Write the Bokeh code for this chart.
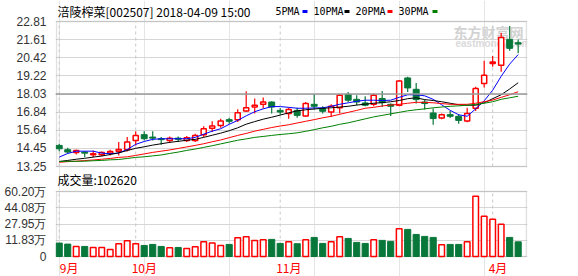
from bokeh.plotting import figure
from bokeh.models import (FixedTicker, Range1d, Span, BoxAnnotation, LinearAxis)
from bokeh.core.properties import value
from bokeh.embed import file_html
from bokeh.resources import INLINE

# ---------------- data ----------------
stock_title = "涪陵榨菜[002507] 2018-04-09 15:00"
ma_names = ["5PMA", "10PMA", "20PMA", "30PMA"]
volume_title = "成交量"
last_volume = 102620

opens = [14.64, 14.36, 14.17, 14.20, 14.03, 14.03, 14.13, 14.26, 14.37, 14.97,
         15.35, 15.19, 15.08, 14.97, 15.12, 14.97, 14.97, 15.35, 15.78, 15.96,
         16.34, 16.34, 16.91, 17.17, 17.35, 17.50, 16.95, 16.74, 16.95, 16.58,
         17.35, 17.07, 16.84, 17.13, 18.01, 17.68, 17.44, 17.35, 17.73, 17.35,
         17.29, 19.09, 18.34, 17.50, 16.78, 16.45, 16.67, 16.56, 16.25, 17.09,
         18.72, 20.04, 19.93, 21.63, 21.41]
closes = [14.42, 14.20, 14.31, 14.13, 14.09, 14.18, 14.24, 14.37, 14.86, 15.30,
          15.08, 15.12, 15.02, 15.12, 15.04, 15.15, 15.30, 15.74, 15.92, 16.25,
          16.23, 16.80, 17.13, 17.29, 17.50, 17.17, 16.84, 17.00, 16.62, 17.40,
          17.22, 16.89, 17.22, 17.95, 17.62, 17.50, 17.29, 17.95, 17.46, 17.22,
          18.89, 18.43, 17.66, 17.40, 16.41, 16.67, 16.56, 16.29, 16.74, 18.39,
          19.27, 20.14, 21.76, 21.04, 21.32]
highs = [14.75, 14.49, 14.36, 14.26, 14.31, 14.24, 14.36, 14.86, 15.19, 15.57,
         15.57, 15.57, 15.19, 15.23, 15.23, 15.26, 15.41, 15.90, 16.23, 16.40,
         16.47, 17.02, 18.21, 17.73, 17.80, 17.55, 17.11, 17.13, 17.13, 17.50,
         18.01, 17.22, 17.35, 18.01, 18.16, 17.95, 17.88, 18.06, 18.23, 17.40,
         18.94, 19.16, 18.76, 17.66, 17.07, 16.74, 16.91, 16.69, 17.13, 18.50,
         20.22, 20.53, 22.07, 22.51, 21.63]
lows = [14.26, 14.09, 14.04, 13.86, 13.86, 13.93, 13.98, 13.98, 14.24, 14.64,
        14.97, 14.97, 14.68, 14.82, 14.86, 14.86, 14.86, 15.19, 15.52, 15.81,
        16.07, 16.18, 16.84, 16.74, 17.07, 16.74, 16.67, 16.40, 16.47, 16.51,
        17.00, 16.74, 16.51, 16.74, 17.50, 17.29, 17.22, 17.22, 17.17, 16.58,
        17.22, 18.16, 17.40, 17.00, 16.01, 16.36, 16.45, 16.07, 16.16, 16.91,
        18.46, 19.82, 19.49, 20.88, 20.71]
# volume in 万手
volumes = [9.0, 8.0, 5.7, 5.7, 4.7, 4.7, 2.7, 8.4, 11.4, 8.4,
           6.7, 7.7, 5.7, 4.4, 4.7, 3.7, 5.4, 10.4, 9.0, 6.7,
           7.7, 14.4, 15.35, 11.7, 12.4, 12.7, 8.7, 10.4, 8.4, 12.4,
           14.65, 8.7, 10.4, 15.35, 13.65, 9.7, 8.7, 12.4, 11.7, 10.7,
           23.3, 22.6, 17.6, 15.65, 14.65, 7.4, 7.7, 7.7, 10.4, 55.5,
           35.6, 32.6, 27.6, 14.65, 10.262]
ma5 = [13.87, 14.11, 14.26, 14.26, 14.26, 14.13, 14.09, 14.14, 14.37, 14.71,
       14.90, 15.04, 15.08, 15.08, 15.08, 15.08, 15.17, 15.38, 15.58, 15.74,
       16.03, 16.29, 16.59, 16.86, 17.05, 17.20, 17.20, 17.15, 17.09, 17.09,
       17.11, 17.12, 17.22, 17.35, 17.45, 17.55, 17.62, 17.62, 17.60, 17.62,
       17.81, 17.98, 17.98, 17.91, 17.68, 17.32, 16.95, 16.66, 16.56, 17.05,
       17.58, 18.28, 19.20, 20.00, 20.63]
ma10 = [13.58, 13.65, 13.73, 13.79, 13.87, 13.94, 14.04, 14.15, 14.30, 14.45,
        14.55, 14.66, 14.75, 14.84, 14.91, 14.98, 15.04, 15.17, 15.31, 15.45,
        15.61, 15.80, 16.04, 16.21, 16.37, 16.50, 16.64, 16.79, 16.92, 16.99,
        17.04, 17.09, 17.12, 17.17, 17.22, 17.30, 17.36, 17.42, 17.46, 17.52,
        17.60, 17.72, 17.78, 17.66, 17.60, 17.52, 17.42, 17.32, 17.29, 17.29,
        17.45, 17.72, 17.98, 18.36, 18.77]
ma20 = [13.53, 13.57, 13.60, 13.64, 13.68, 13.73, 13.78, 13.85, 13.89, 13.98,
        14.08, 14.18, 14.26, 14.34, 14.44, 14.54, 14.64, 14.75, 14.88, 15.00,
        15.15, 15.30, 15.43, 15.58, 15.70, 15.82, 15.92, 16.00, 16.12, 16.23,
        16.34, 16.46, 16.56, 16.69, 16.82, 16.95, 17.09, 17.15, 17.24, 17.30,
        17.35, 17.42, 17.48, 17.48, 17.45, 17.40, 17.35, 17.35, 17.35, 17.42,
        17.52, 17.63, 17.81, 17.98, 18.18]
ma30 = [13.58, 13.59, 13.59, 13.60, 13.63, 13.65, 13.69, 13.71, 13.78, 13.85,
        13.89, 13.95, 14.01, 14.11, 14.20, 14.31, 14.40, 14.51, 14.62, 14.74,
        14.86, 14.98, 15.07, 15.17, 15.23, 15.30, 15.36, 15.41, 15.47, 15.57,
        15.68, 15.80, 15.90, 16.03, 16.13, 16.26, 16.39, 16.52, 16.62, 16.72,
        16.82, 16.92, 16.99, 17.05, 17.12, 17.17, 17.22, 17.25, 17.29, 17.34,
        17.42, 17.52, 17.68, 17.78, 17.88]

price_ticks = [13.25, 14.45, 15.64, 16.84, 18.03, 19.22, 20.42, 21.61, 22.81]
vol_ticks = [-4.29, 11.83, 27.95, 44.08, 60.20]
vol_tick_labels = ["0", "11.83万", "27.95万", "44.08万", "60.20万"]
month_starts = [0, 9, 26, 51]
month_labels = ["9月", "10月", "11月", "4月"]

# ---------------- layout / styles ----------------
W, H = 578, 276
FRAME_L, FRAME_R = 55, 51            # frame is 1 px wider than the chart boxes
BOX_L, BOX_R = 56, 526               # chart boxes (pixels)
PRICE_TOP, PRICE_BOT = 21, 166       # price box (pixels from top)
VOL_TOP, VOL_BOT = 191, 256          # volume box (pixels from top)
RED = "#ff0000"
GREEN = "#08773a"
MA_COLORS = ["#0000ff", "#000000", "#ff0000", "#008000"]
GRID = "#d6d6d6"
FRAME = "#9a9a9a"
VGRID = "#c8c8c8"
LAT = "Liberation Sans"
CJK = "Noto Sans CJK SC"
MONO = "DejaVu Sans Mono"

n = len(closes)
idx = list(range(n))
is_up = [c >= o for o, c in zip(opens, closes)]


def pick(arr, flag):
    return [a for a, u in zip(arr, is_up) if u == flag]


body_top = [max(o, c) for o, c in zip(opens, closes)]
body_bot = [min(o, c) for o, c in zip(opens, closes)]

# x scale: candle slots, box edges at X0 / X1
X0, X1 = -0.32, 54.98
upp = (X1 - X0) / (BOX_R - BOX_L)
x_start = X0 - (BOX_L - FRAME_L) * upp
x_end = X1 + (W - FRAME_R - BOX_R) * upp

# main y scale (price units) spans the whole canvas height
p_lo, p_hi = price_ticks[0], price_ticks[-1]
kp = (p_hi - p_lo) / (PRICE_BOT - PRICE_TOP)
y_top = p_hi + PRICE_TOP * kp
y_bot = p_lo - (H - PRICE_BOT) * kp

# volume scale on the same frame
v_lo, v_hi = vol_ticks[0], vol_ticks[-1]
kv = (v_hi - v_lo) / (VOL_BOT - VOL_TOP)
v_top = v_hi + VOL_TOP * kv
v_bot = v_lo - (H - VOL_BOT) * kv


def vol_to_main(v):
    return y_bot + (v - v_bot) / (v_top - v_bot) * (y_top - y_bot)


def PX(px):
    return x_start + (px - FRAME_L) * upp


def PY(py):
    return y_top - py * kp


p = figure(width=W, height=H, x_range=Range1d(x_start, x_end),
           y_range=Range1d(y_bot, y_top), x_axis_location=None,
           output_backend="svg", toolbar_location=None,
           min_border_left=FRAME_L, min_border_right=FRAME_R,
           min_border_top=0, min_border_bottom=0)
p.extra_y_ranges = {"vol": Range1d(v_bot, v_top)}
p.outline_line_color = None
p.background_fill_color = "white"
p.border_fill_color = "white"

# one left axis carries both the price and the volume ticks
axis_ticks = price_ticks + [vol_to_main(v) for v in vol_ticks]
overrides = {t: f"{t:.2f}" for t in price_ticks}
overrides.update({vol_to_main(v): lab for v, lab in zip(vol_ticks, vol_tick_labels)})
ax = p.yaxis[0]
ax.ticker = FixedTicker(ticks=axis_ticks)
ax.major_label_overrides = overrides
ax.axis_line_color = None
ax.major_tick_line_color = None
ax.minor_tick_line_color = None
ax.major_label_text_font = LAT
ax.major_label_text_font_size = "12px"
ax.major_label_text_color = "#333333"
ax.major_label_standoff = 3
p.ygrid.grid_line_color = GRID

# dashed month grid lines inside both boxes
p.segment(x0=month_starts, y0=[p_lo] * 4, x1=month_starts, y1=[p_hi] * 4,
          line_color=VGRID, line_dash="3 3", line_width=1)
p.segment(x0=month_starts, y0=[v_lo] * 4, x1=month_starts, y1=[v_hi] * 4,
          line_color=VGRID, line_dash="3 3", line_width=1, y_range_name="vol")

# darker middle line
p.add_layout(Span(location=price_ticks[len(price_ticks) // 2], dimension="width",
                  line_color=FRAME, line_width=1.5))

# chart boxes
p.add_layout(BoxAnnotation(left=X0, right=X1, bottom=p_lo, top=p_hi, fill_color=None,
                           line_color=FRAME, line_width=1.5, level="underlay"))
p.add_layout(BoxAnnotation(left=X0, right=X1, bottom=vol_to_main(v_lo),
                           top=vol_to_main(v_hi), fill_color=None,
                           line_color=FRAME, line_width=1.5, level="underlay"))

# watermark
p.text(x=[PX(453)], y=[PY(31)], text=["东方财富网"], text_font=value(CJK),
       text_font_size="14px", text_font_style="bold", text_color="#d2d2d2",
       text_baseline="middle")
p.text(x=[PX(455)], y=[PY(43)], text=["eastmoney.com"], text_font=value(LAT),
       text_font_size="10px", text_font_style="bold", text_color="#dadada",
       text_baseline="middle")

# candles
for flag, col in ((True, RED), (False, GREEN)):
    xs = pick(idx, flag)
    p.segment(x0=xs, y0=pick(lows, flag), x1=xs, y1=pick(highs, flag),
              line_color=col, line_width=1.2)
p.vbar(x=pick(idx, True), top=pick(body_top, True), bottom=pick(body_bot, True),
       width=0.6, fill_color="white", line_color=RED, line_width=1.5)
p.vbar(x=pick(idx, False), top=pick(body_top, False), bottom=pick(body_bot, False),
       width=0.7, fill_color=GREEN, line_color=GREEN, line_width=1)

for series, col in zip([ma5, ma10, ma20, ma30], MA_COLORS):
    p.line(idx, series, line_color=col, line_width=1)

# volume bars
p.vbar(x=pick(idx, True), top=pick(volumes, True), bottom=v_lo, width=0.66,
       fill_color="white", line_color=RED, line_width=1.5, y_range_name="vol")
p.vbar(x=pick(idx, False), top=pick(volumes, False), bottom=v_lo, width=0.72,
       fill_color=GREEN, line_color=GREEN, line_width=1, y_range_name="vol")

# header: title + MA legend
p.text(x=[PX(57)], y=[PY(10.5)], text=[stock_title], text_font=value(CJK),
       text_font_size="12px", text_color="black", text_baseline="middle")
legend_x = [275, 313, 355, 398]
dash_x = [302, 344, 387, 432]
p.text(x=[PX(v) for v in legend_x], y=[PY(10.5)] * 4, text=ma_names,
       text_font=value(MONO), text_font_size="10px", text_color="black",
       text_baseline="middle")
p.segment(x0=[PX(v) for v in dash_x], y0=[PY(11)] * 4,
          x1=[PX(v + 5) for v in dash_x], y1=[PY(11)] * 4,
          line_color=MA_COLORS, line_width=3)

# volume caption
p.text(x=[PX(57)], y=[PY(179)], text=[f"{volume_title}:{last_volume}"],
       text_font=value(CJK), text_font_size="12px", text_color="black",
       text_baseline="middle")

# month labels
offs = [0.5 if m == month_starts[0] else -4 for m in month_starts]
p.text(x=month_starts, y=[PY(267)] * len(month_starts), text=month_labels,
       x_offset=offs, text_font=value(CJK), text_font_size="12px",
       text_color=RED, text_baseline="middle")

open("out.html", "w").write(file_html(p, INLINE))
